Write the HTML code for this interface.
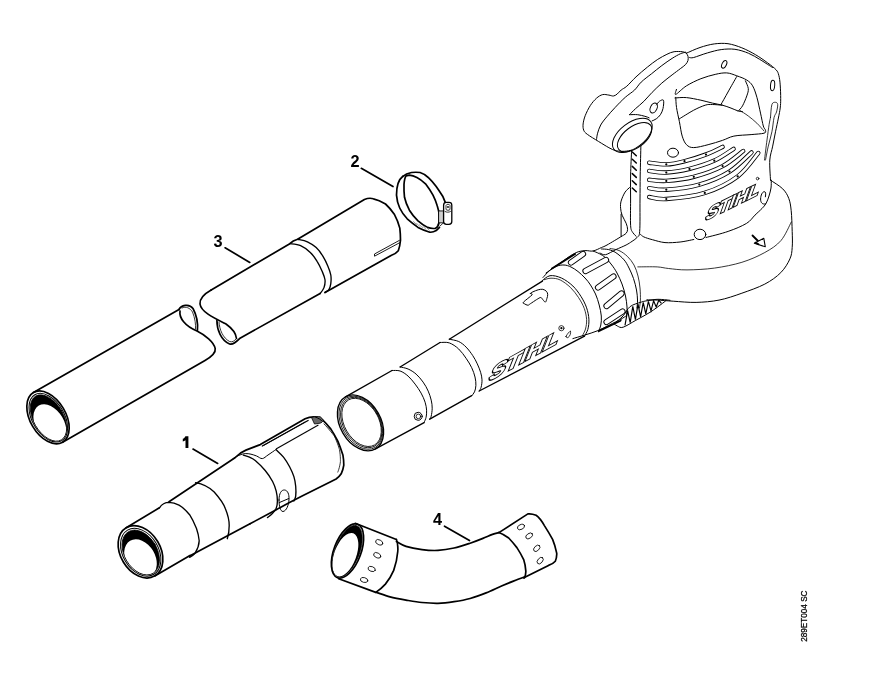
<!DOCTYPE html>
<html><head><meta charset="utf-8">
<style>
html,body{margin:0;padding:0;background:#fff;}
body{width:874px;height:697px;overflow:hidden;}
svg{display:block;will-change:transform;}
.l{fill:none;stroke:#000;stroke-width:1.7;stroke-linecap:round;stroke-linejoin:round;}
.m{fill:none;stroke:#000;stroke-width:1.0;stroke-linecap:round;stroke-linejoin:round;}
.k{fill:none;stroke:#000;stroke-width:1.35;stroke-linecap:round;stroke-linejoin:round;}
.t{fill:none;stroke:#000;stroke-width:0.8;stroke-linecap:round;stroke-linejoin:round;}
.f{fill:#000;stroke:none;}
.w{fill:#fff;stroke:#000;stroke-width:1.2;stroke-linejoin:round;}
.n{font-family:"Liberation Sans",sans-serif;font-weight:bold;font-size:16.3px;fill:#000;}
.s{font-family:"Liberation Sans",sans-serif;font-weight:bold;font-size:8px;fill:#000;}
</style></head><body>
<svg width="874" height="697" viewBox="0 0 874 697">
<ellipse class="l" cx="48.0" cy="417.4" rx="17.8" ry="28.8" transform="rotate(-30.5 48.0 417.4)"/>
<ellipse class="m" cx="48.3" cy="417.7" rx="16.0" ry="26.6" transform="rotate(-30.5 48.3 417.7)"/>
<clipPath id="c1"><ellipse cx="48.5" cy="418.0" rx="15.0" ry="25.4" transform="rotate(-30.5 48.5 418.0)"/></clipPath>
<g clip-path="url(#c1)"><ellipse cx="48.5" cy="418.0" rx="15.0" ry="25.4" transform="rotate(-30.5 48.5 418.0)" fill="#000"/><ellipse cx="49.9" cy="424.3" rx="14.2" ry="21.8" transform="rotate(-30.5 49.9 424.3)" fill="#fff"/></g>
<ellipse class="t" cx="48.5" cy="418.0" rx="15.0" ry="25.4" transform="rotate(-30.5 48.5 418.0)"/>
<path class="l" d="M33.4 392.6 L179 309.5" />
<path class="l" d="M179 309.5 C181 305.5 189 303 193 308.5 C196.5 315 198 324 197.4 330.5" />
<path class="t" d="M182 308 C186 306 190 308 192.5 312 C195 318 196 325 195.5 329" />
<path class="l" d="M180 311 C179 318 185 326 197 331 C205 335 214 342 215.2 348.6 C216 353.5 211 357 205 360.5 L62.6 442.2" />
<path class="l" d="M211.2 290 C204 294 199.5 298 200 304 C201 312 214 318 226 324 C233 329 236 333 236.5 338.5" />
<path class="l" d="M216.9 320.4 C217 330 221 340 229.6 344 C233 345 236 342 240 338.2 L320.1 293.5" />
<path class="t" d="M219 322 C219.5 330 223 338 229.6 341.5 C232 342.5 234.5 341 236 339" />
<path class="l" d="M211.2 290 L289.8 243.7 C292 241.5 295 240 297.6 239.3 L364.4 199.5 C368 198 371 198 373.4 198.8 C379 200 385.5 204 385.5 204 C390 208 394.5 214.6 394.5 214.6 C398 221 399.8 228.1 399.8 228.1 C400.5 234 400.5 240.2 400.5 240.2 C400 246 398.3 250.7 398.3 250.7 C396 253.5 391.5 255.3 391.5 255.3 L325 292.5" />
<path class="k" d="M289.8 243.7 C291.6 244.0 297.2 244.2 300.6 245.7 C304.0 247.2 307.6 249.9 310.3 252.5 C313.1 255.1 315.2 258.2 317.1 261.3 C319.1 264.4 320.7 267.9 322.0 271.0 C323.3 274.1 324.7 277.0 325.0 279.8 C325.3 282.6 324.8 285.3 324.0 287.6 C323.2 289.9 320.8 292.5 320.1 293.5"/>
<path class="k" d="M297.6 239.3 C299.2 239.7 304.3 240.4 307.4 241.8 C310.5 243.2 313.6 245.2 316.2 247.6 C318.8 250.0 321.1 253.3 323.0 256.4 C324.9 259.5 326.6 263.1 327.9 266.2 C329.2 269.3 330.3 272.1 330.8 275.0 C331.3 277.9 331.1 281.3 330.8 283.7 C330.5 286.1 329.9 288.1 328.9 289.6 C327.9 291.1 325.6 292.0 325.0 292.5"/>
<path class="t" d="M399.5 240.3 L374.5 254 L374.5 256.2 L399.5 242.8" style="stroke-width:0.9"/>
<path class="l" d="M402.9 176.3 C398 180 396.5 188 396.5 195.1 C397 202 399.7 208 399.7 208 C402 213 407.2 218.8 407.2 218.8 C412 223 418 227.4 418 227.4 C423 230 429.8 232.2 429.8 232.2 C433 232.5 436.2 230.6 436.2 230.6 L439.5 227.4" />
<path class="l" d="M402.9 176.3 C406 173.5 411.5 172.5 411.5 172.5 C416 172 420.1 172.5 420.1 172.5 C425 174 428.7 177.9 428.7 177.9 C432 181 436.2 186.5 436.2 186.5 C439 190.5 442.7 196.2 442.7 196.2 L445.4 202.6" />
<path class="l" d="M406.1 175.8 C404.5 178 404 184.4 404 184.4 C403.8 191 404.5 197.3 404.5 197.3 C406 204 409.4 210.2 409.4 210.2 C413 216 418 220.9 418 220.9 C422 224.5 427.6 227.4 427.6 227.4 C431 228.8 435.2 228.4 435.2 228.4 C437.5 227.5 438.4 225.2 438.4 225.2 C439.8 221 439.5 216.6 439.5 216.6 C439 211 437.3 205.9 437.3 205.9 C435.5 200 433 195.1 433 195.1 C429.5 189 425.5 183.8 425.5 183.8 C421 179.5 416.9 177.4 416.9 177.4 C413 175.5 409.4 175.2 409.4 175.2 Z" />
<rect x="438.6" y="211" width="5.2" height="11.8" fill="#fff" stroke="#000" stroke-width="1"/>
<path class="t" d="M439.8 212 L439.8 222 M441 212 L441 222 M442.3 212 L442.3 222" style="stroke:#888;stroke-width:0.6"/>
<rect x="443.6" y="202.4" width="8.2" height="21.9" rx="2.8" fill="#fff" stroke="#000" stroke-width="1.3"/>
<path class="t" d="M445 211.5 C446.5 212.5 449 212.5 450.5 211.5" />
<path d="M446 205.5 C446.5 203.8 449.5 203.8 450 205.5 L450 209.5 C449 210.5 447 210.5 446 209.5 Z" fill="#fff" stroke="#000" stroke-width="0.8"/>
<circle cx="448" cy="207" r="0.9" fill="#000"/>
<path class="t" d="M436.5 227.5 L438.6 222.7 M440 226 L443.6 222.7" />
<path class="t" d="M413.5 221.5 L416.5 224.5 M416.5 223.2 L419.5 226.3 M419.5 224.8 L422.7 227.8 M422.8 226.2 L426 229.2 M426.2 227.2 L429.3 230.2" style="stroke:#777;stroke-width:0.7"/>
<text class="n" x="213.4" y="246.8">3</text>
<path class="l" d="M225.1 247.8 L249.8 262.4" />
<text class="n" x="350.5" y="167.1">2</text>
<path class="l" d="M361.3 168.3 L393 186.5" />
<path class="f" d="M185.4 436.2 L188.4 436.2 L188.4 447.9 L185.5 447.9 L185.5 440.2 C184.6 440.9 183.6 441.3 182.8 441.5 L182.8 438.8 C184 438.3 185 437.3 185.4 436.2 Z"/>
<path class="l" d="M193 449.1 L217.7 463.4" />
<text class="n" x="433" y="525.2">4</text>
<path class="l" d="M444.5 526.2 L469.5 540.6" />
<ellipse class="l" cx="140.5" cy="551.8" rx="20.0" ry="28.0" transform="rotate(-30.8 140.5 551.8)"/>
<ellipse class="m" cx="140.7" cy="552.2" rx="17.8" ry="25.7" transform="rotate(-30.8 140.7 552.2)"/>
<clipPath id="c2"><ellipse cx="140.8" cy="552.5" rx="16.4" ry="24.2" transform="rotate(-30.8 140.8 552.5)"/></clipPath>
<g clip-path="url(#c2)"><ellipse cx="140.8" cy="552.5" rx="16.4" ry="24.2" transform="rotate(-30.8 140.8 552.5)" fill="#000"/><ellipse cx="140.5" cy="558.3" rx="14.6" ry="20.3" transform="rotate(-30.8 140.5 558.3)" fill="#fff"/></g>
<ellipse class="t" cx="140.8" cy="552.5" rx="16.4" ry="24.2" transform="rotate(-30.8 140.8 552.5)"/>
<path class="l" d="M126.2 527.7 L159.4 507.8" />
<path class="l" d="M154.8 575.9 L190 555.5" />
<path class="k" d="M159.4 507.8 C162 504 166 502.4 169 502.4 C174 502.6 179 505.1 179 505.1 C184 508 189.6 514.7 189.6 514.7 C193 520 196.5 528.4 196.5 528.4 C198.5 534 199.2 540.8 199.2 540.8 C199 547 195.1 553.2 195.1 553.2 C193 555.5 189.6 557.3 189.6 557.3" />
<path class="l" d="M169 501.7 L234.6 458" />
<path class="l" d="M189.6 556 L250 523.8" />
<path class="k" d="M195.6 482.7 C203 484 210 488 214.2 492 C219.5 498 223.5 503 225.4 508.8 C228 515 229.2 520 229.2 525.6 C229.2 531 228.5 535 227.3 538.7" />
<path class="l" d="M234.6 458 C238 454.5 241 452 245.9 450.1 L260.3 444.6 L305.1 418.8 C309 417 312 416.8 315.4 417 C318 417.2 320.5 418.2 322.3 419.6 C326 423 330.9 429.1 330.9 429.1 C334.5 434.5 337.8 441.1 337.8 441.1 C340.5 447.5 342.9 454.9 342.9 454.9 C343.8 460 343.8 465.2 343.8 465.2 C343.2 469.5 341.2 473.8 341.2 473.8 C339.5 476.5 336.1 479 336.1 479 C320 487 301.6 496.2 301.6 496.2 C290 502 275.8 510 275.8 510 L250 523.8" />
<path class="t" d="M324 423.9 C329 429 334.3 436 334.3 436 C337.5 442.5 339.5 449.8 339.5 449.8 C340.6 456 340.4 461.8 340.4 461.8 C339.8 467.5 337.8 472.1 337.8 472.1" />
<path class="k" d="M262.3 446 L308.1 420.5" />
<path class="t" d="M264 445.2 L305 422" />
<path d="M276 448.9 L318.4 424.9" stroke="#000" stroke-width="1.1" fill="none"/>
<path d="M311.5 417.6 C314 416.6 318 416.3 320.5 416.8 L323.3 420.2 C322.8 421.8 321.5 422.8 320 423.2 L314.5 424 Z" fill="#666" stroke="#000" stroke-width="0.8"/>
<path class="m" d="M232.6 459.2 C233.7 458.6 236.9 456.2 239.0 455.3 C241.1 454.4 243.2 453.8 245.2 453.6 C247.2 453.4 249.1 453.8 251.0 454.2 C252.9 454.6 254.7 455.3 256.6 456.0 C258.5 456.7 260.4 458.8 262.3 458.6 C264.2 458.4 265.7 456.5 268.0 455.0 C270.3 453.5 274.7 450.4 276.0 449.5"/>
<path class="m" d="M315.4 417 C318 418 321 419.6 322 421" />
<path class="k" d="M276.2 449.8 C277.4 451.0 281.3 454.3 283.5 457.1 C285.7 459.9 287.9 463.6 289.6 466.8 C291.3 470.1 292.9 473.4 293.9 476.6 C294.9 479.9 295.4 483.1 295.7 486.3 C296.0 489.6 296.0 493.7 295.7 496.1 C295.4 498.6 294.2 500.2 293.9 501.0"/>
<path class="k" d="M243.3 455.2 C244.3 455.5 247.5 456.3 249.5 457.2 C251.5 458.1 252.9 458.5 255.5 460.7 C258.1 462.9 262.3 467.0 265.2 470.5 C268.1 474.0 270.8 478.1 272.6 481.5 C274.4 484.9 275.4 487.9 276.2 491.2 C277.0 494.4 277.4 498.1 277.4 501.0 C277.4 503.9 277.0 506.3 276.2 508.3 C275.4 510.3 274.1 511.7 272.6 513.2 C271.2 514.7 268.4 516.8 267.5 517.5"/>
<path class="m" d="M279 500 C279 493 281.5 489.8 284.5 490 C287.8 490.3 289.2 494.5 289 499 C288.8 505 286.5 511 283 511.5 C280.3 511.5 279 506 279 500 Z M279.5 502.5 L288.8 498.5" />
<ellipse class="l" cx="347.5" cy="551.0" rx="13.5" ry="28.5" transform="rotate(20.6 347.5 551.0)"/>
<ellipse class="t" cx="347.3" cy="551.2" rx="12.3" ry="27.2" transform="rotate(20.6 347.3 551.2)"/>
<clipPath id="c3"><ellipse cx="347.3" cy="551.2" rx="12.3" ry="27.2" transform="rotate(20.6 347.3 551.2)"/></clipPath>
<g clip-path="url(#c3)"><ellipse cx="347.3" cy="551.2" rx="12.3" ry="27.2" transform="rotate(20.6 347.3 551.2)" fill="#000"/><ellipse cx="345.3" cy="554.7" rx="11.0" ry="22.8" transform="rotate(20.6 345.3 554.7)" fill="#fff"/></g>
<path class="l" d="M355.2 523.3 L396.4 539.5" />
<path class="l" d="M338.7 578.7 L375.8 592.4" />
<path class="l" d="M396.4 539.5 C398 543 398 551.2 397.8 551.2 C397 561 393.7 570.4 393.7 570.4 C390.5 578 385.4 584.1 385.4 584.1 C381 589 375.8 592.4 375.8 592.4" />
<path class="l" d="M396.4 541.6 C398.0 542.4 401.7 545.1 406.0 546.4 C410.3 547.7 416.7 548.9 422.0 549.6 C427.3 550.3 432.6 550.7 438.0 550.4 C443.4 550.1 448.8 549.2 454.1 548.0 C459.5 546.8 465.3 544.8 470.1 543.2 C474.9 541.6 479.2 539.9 482.9 538.4 C486.6 536.9 489.8 535.4 492.5 534.4 C495.2 533.4 497.8 532.9 498.9 532.6"/>
<path class="l" d="M376.5 592.4 C378.8 593.1 385.1 595.6 390.0 596.9 C394.9 598.2 400.7 599.2 406.0 600.1 C411.3 601.0 416.7 602.0 422.0 602.5 C427.3 603.0 432.6 603.4 438.0 603.3 C443.4 603.2 448.8 602.5 454.1 601.7 C459.5 600.9 464.8 600.0 470.1 598.5 C475.4 597.0 480.8 595.0 486.1 592.9 C491.4 590.8 496.8 588.0 502.1 585.7 C507.4 583.4 514.4 580.8 518.1 579.3 C521.8 577.8 523.4 577.3 524.5 576.9"/>
<path class="l" d="M498.9 532.6 L527.9 513.9 C531 513.5 533 514 536.1 515.3 C540 518 544.4 525.6 544.4 525.6 C548.5 532 552.6 539.3 552.6 539.3 C555 545 556.7 553.1 556.7 553.1 C557 557 555.3 561.3 555.3 561.3 C553 564 548.5 565.4 548.5 565.4 L523.8 577.8" />
<path class="l" d="M499 532.5 C503 534 508.7 538 508.7 538 C512.5 542 516.9 547.6 516.9 547.6 C520.5 553 523.8 559.9 523.8 559.9 C525.5 565 525.8 570.9 525.8 570.9 C526 574.5 524.4 577.8 524.4 577.8" />
<ellipse class="t" cx="379.2" cy="542.3" rx="3.8" ry="2.4" transform="rotate(25 379.2 542.3)"/>
<ellipse class="t" cx="377.2" cy="555.3" rx="3.8" ry="2.4" transform="rotate(25 377.2 555.3)"/>
<ellipse class="t" cx="371.7" cy="569.0" rx="3.8" ry="2.4" transform="rotate(20 371.7 569.0)"/>
<ellipse class="t" cx="364.1" cy="580.0" rx="3.8" ry="2.4" transform="rotate(15 364.1 580.0)"/>
<ellipse class="t" cx="521.0" cy="527.0" rx="3.8" ry="2.4" transform="rotate(-25 521.0 527.0)"/>
<ellipse class="t" cx="529.2" cy="535.9" rx="3.8" ry="2.4" transform="rotate(-35 529.2 535.9)"/>
<ellipse class="t" cx="536.8" cy="548.3" rx="3.8" ry="2.4" transform="rotate(-45 536.8 548.3)"/>
<ellipse class="t" cx="540.2" cy="560.6" rx="3.8" ry="2.4" transform="rotate(-50 540.2 560.6)"/>
<ellipse class="k" cx="360.5" cy="422.9" rx="20.3" ry="30.0" transform="rotate(-30 360.5 422.9)"/>
<ellipse class="t" cx="360.9" cy="422.7" rx="19.2" ry="28.6" transform="rotate(-30 360.9 422.7)"/>
<ellipse class="t" cx="361.3" cy="422.5" rx="18.1" ry="27.2" transform="rotate(-30 361.3 422.5)"/>
<ellipse class="t" cx="361.6" cy="422.4" rx="17.2" ry="26.0" transform="rotate(-30 361.6 422.4)"/>
<path class="k" d="M345.5 396.9 L392 370.5" />
<path class="m" d="M392.0 370.5 C393.4 370.6 397.4 370.1 400.1 371.0 C402.8 371.9 405.6 373.9 408.1 376.1 C410.6 378.3 412.9 381.3 415.1 384.1 C417.3 386.9 419.4 390.1 421.1 393.1 C422.8 396.1 424.2 399.4 425.1 402.2 C426.0 405.0 426.4 407.7 426.6 410.2 C426.8 412.7 426.5 415.1 426.1 417.2 C425.7 419.2 424.4 421.6 424.1 422.5"/>
<path class="m" d="M400.1 367.0 C401.4 367.3 405.4 367.8 408.1 369.0 C410.8 370.2 413.6 371.9 416.1 374.1 C418.6 376.3 421.1 379.3 423.1 382.1 C425.1 384.9 426.9 388.1 428.2 391.1 C429.5 394.1 430.5 397.2 431.2 400.1 C431.9 403.0 432.2 405.5 432.2 408.2 C432.2 410.9 431.6 414.4 431.2 416.2 C430.8 418.0 429.9 418.7 429.7 419.2"/>
<path class="k" d="M400.1 367 L440 342.5" />
<path class="m" d="M440.0 342.5 C441.6 342.6 446.2 341.8 449.3 342.9 C452.4 344.0 455.9 346.4 458.7 349.0 C461.5 351.6 463.9 355.2 466.1 358.3 C468.3 361.4 470.2 364.6 471.7 367.7 C473.2 370.8 474.3 374.1 475.0 377.0 C475.7 379.9 476.0 382.9 475.9 385.4 C475.8 387.9 475.2 390.2 474.5 391.9 C473.8 393.6 472.2 395.1 471.7 395.7"/>
<path class="m" d="M449.3 339.2 C450.9 339.6 455.9 340.2 458.7 341.5 C461.5 342.8 463.8 344.8 466.1 347.1 C468.4 349.4 470.8 352.7 472.7 355.5 C474.6 358.3 476.0 361.1 477.3 363.9 C478.6 366.7 479.8 369.6 480.6 372.3 C481.4 375.0 481.9 377.3 482.0 379.8 C482.1 382.3 481.6 385.4 481.1 387.3 C480.6 389.2 479.5 390.4 479.2 391.0"/>
<path class="k" d="M449.3 339.2 L542.4 281.1" />
<path class="k" d="M375.5 448.9 L424.1 422.7" />
<path class="k" d="M429.7 419.2 L471.7 395.7" />
<path class="k" d="M479.2 391 L584.5 336.2" />
<circle class="m" cx="418.2" cy="416.3" r="4"/><circle class="t" cx="418.4" cy="416.4" r="2.3"/>
<path class="m" d="M530.4 293.4 C530.6 292.9 531.7 292.4 533.0 291.8 C534.3 291.2 536.6 290.2 538.2 289.8 C539.8 289.4 541.4 289.1 542.8 289.3 C544.2 289.6 545.6 290.5 546.4 291.3 C547.2 292.1 547.6 293.2 547.7 294.4 C547.8 295.6 547.3 297.2 546.9 298.5 C546.5 299.8 546.1 301.9 545.4 302.1 C544.7 302.3 543.6 300.4 542.8 299.6 C542.0 298.8 541.7 297.5 540.7 297.5 C539.7 297.5 538.3 298.6 536.6 299.6 C534.9 300.6 531.9 302.8 530.4 303.7 C528.9 304.6 528.9 305.2 527.9 305.2 C526.9 305.2 525.0 304.2 524.3 303.7 C523.6 303.2 522.2 303.6 523.5 302.1 C524.8 300.6 530.9 296.3 532.0 294.9 C533.1 293.4 530.2 293.9 530.4 293.4 Z"/>
<text transform="matrix(1.08,-0.6,-0.4,1,487.5,382)" font-family="Liberation Sans" font-weight="bold" font-size="22.5" stroke="#000" stroke-width="2.4" fill="#000" letter-spacing="-0.3">STIHL</text>
<text transform="matrix(1.08,-0.6,-0.4,1,487.5,382)" font-family="Liberation Sans" font-weight="bold" font-size="22.5" fill="#fff" letter-spacing="-0.3">STIHL</text>
<circle class="t" cx="561.4" cy="328.2" r="2.6"/><circle cx="561.4" cy="328.2" r="1.1" fill="#000"/>
<path class="t" d="M566 336.5 C567 334 569.5 331.5 570.5 331 C571 333 570 336.5 568 337.5 C567 338 566 337.5 566 336.5 Z" />
<path class="m" d="M542.1 280.8 C543.4 279.9 546.8 276.2 550.0 275.7 C553.2 275.2 557.6 276.3 561.4 278.0 C565.2 279.7 569.6 282.9 572.9 286.0 C576.1 289.1 578.6 292.7 580.9 296.3 C583.2 299.9 585.3 304.0 586.6 307.8 C587.9 311.6 588.7 315.6 588.9 319.2 C589.1 322.8 588.6 326.6 587.8 329.5 C587.0 332.4 584.9 335.2 584.3 336.4"/>
<path class="t" d="M544.0 279.8 C545.2 279.5 548.3 278.2 551.0 278.2 C553.7 278.2 557.0 278.4 560.3 280.0 C563.5 281.6 567.5 284.6 570.5 287.5 C573.5 290.4 576.2 294.0 578.5 297.5 C580.8 301.0 582.9 304.8 584.3 308.5 C585.6 312.2 586.4 316.1 586.6 319.5 C586.8 322.9 586.2 326.3 585.5 329.0 C584.8 331.7 583.0 334.4 582.5 335.5"/>
<path class="m" d="M546.0 273.0 C547.7 271.9 553.0 267.8 556.0 266.5 C559.0 265.2 561.5 264.9 564.0 265.0 C566.5 265.1 568.7 265.9 571.0 267.0 C573.3 268.1 575.7 269.7 578.0 271.5 C580.3 273.3 582.9 275.8 585.0 278.0 C587.1 280.2 588.8 282.3 590.5 285.0 C592.2 287.7 594.0 290.7 595.5 294.0 C597.0 297.3 598.2 301.3 599.2 305.0 C600.2 308.7 601.0 312.7 601.3 316.0 C601.6 319.3 601.3 322.4 600.8 325.0 C600.3 327.6 598.9 330.4 598.5 331.5"/>
<path class="m" d="M543.0 277.5 C544.2 276.3 547.1 272.6 550.0 270.2 C552.9 267.8 556.9 265.4 560.3 263.0 C563.7 260.6 567.5 257.6 570.6 255.7 C573.7 253.8 576.2 252.4 578.8 251.6 C581.4 250.8 583.6 250.7 586.0 250.6 C588.4 250.5 590.4 251.5 593.0 251.0 C595.6 250.5 599.2 248.5 601.5 247.5 C603.8 246.5 603.6 246.9 607.0 245.0 C610.4 243.1 619.2 237.8 621.6 236.3"/>
<path class="t" d="M552 268.5 L575 254" style="stroke-width:2"/>
<path class="m" d="M593.2 251.1 C594.2 251.5 597.3 252.6 599.4 253.7 C601.5 254.8 603.5 255.9 605.6 257.8 C607.7 259.7 609.9 262.5 611.8 265.0 C613.7 267.5 615.3 269.8 617.0 273.0 C618.7 276.2 620.6 280.2 622.0 284.0 C623.4 287.8 624.7 292.2 625.5 296.0 C626.3 299.8 626.8 303.7 627.0 307.0 C627.2 310.3 626.6 314.5 626.5 316.0"/>
<path class="m" d="M601.5 249.0 C602.7 249.1 606.3 249.0 608.7 249.6 C611.1 250.2 613.3 251.0 615.9 252.7 C618.5 254.4 621.9 257.3 624.1 259.9 C626.3 262.4 627.4 264.9 629.0 268.0 C630.6 271.1 632.2 274.8 633.5 278.5 C634.8 282.2 635.8 286.4 636.5 290.0 C637.2 293.6 637.4 297.0 637.5 300.0 C637.6 303.0 637.1 306.7 637.0 308.0"/>
<path class="t" d="M610.0 248.5 C611.5 248.8 616.1 249.2 619.0 250.5 C621.9 251.8 625.0 254.1 627.5 256.5 C630.0 258.9 632.2 261.8 634.0 265.0 C635.8 268.2 637.0 272.2 638.0 276.0 C639.0 279.8 639.6 284.0 640.0 288.0 C640.4 292.0 640.5 296.7 640.4 300.0 C640.3 303.3 639.6 306.7 639.5 308.0"/>
<path d="M571 262.5 L583 254" stroke="#000" stroke-width="6.2" stroke-linecap="round"/><path d="M571 262.5 L583 254" stroke="#fff" stroke-width="4.3" stroke-linecap="round"/>
<path d="M585.5 271 L606 260" stroke="#000" stroke-width="6.2" stroke-linecap="round"/><path d="M585.5 271 L606 260" stroke="#fff" stroke-width="4.3" stroke-linecap="round"/>
<path d="M598 287.5 L613.5 276.5" stroke="#000" stroke-width="6.2" stroke-linecap="round"/><path d="M598 287.5 L613.5 276.5" stroke="#fff" stroke-width="4.3" stroke-linecap="round"/>
<path d="M606.5 306 L621.5 293.5" stroke="#000" stroke-width="6.2" stroke-linecap="round"/><path d="M606.5 306 L621.5 293.5" stroke="#fff" stroke-width="4.3" stroke-linecap="round"/>
<path d="M606.5 322 L622.5 311.5" stroke="#000" stroke-width="6.2" stroke-linecap="round"/><path d="M606.5 322 L622.5 311.5" stroke="#fff" stroke-width="4.3" stroke-linecap="round"/>
<path class="m" d="M572.9 338.6 C574.8 338.0 580.1 336.5 584.3 335.2 C588.5 333.9 593.8 332.3 598.0 330.6 C602.2 328.9 605.7 326.8 609.5 324.9 C613.3 323.0 618.1 320.7 620.9 319.2 C623.6 317.7 625.1 316.5 626.0 316.0"/>
<path class="f" d="M598 332.5 L621 321.5 L622 319.3 L598.5 330 Z" />
<path class="m" d="M614.1 323.8 C614.7 324.2 616.0 325.5 617.5 326.1 C619.0 326.7 620.2 328.2 623.2 327.2 C626.2 326.2 631.3 322.8 635.8 320.3 C640.3 317.8 645.6 315.1 650.0 312.3 C654.4 309.5 659.7 305.4 662.4 303.4 C665.1 301.4 665.4 301.0 666.0 300.5"/>
<path class="m" d="M614.1 323.8 C615.6 322.5 620.5 318.7 623.2 315.8 C625.9 312.9 627.1 308.9 630.1 306.6 C633.1 304.3 638.2 303.1 641.5 302.0 C644.8 300.9 647.2 300.8 650.0 300.3 C652.8 299.9 655.0 299.3 658.3 299.3 C661.6 299.3 668.0 300.1 670.0 300.3"/>
<polyline points="625.0,325.4 627.6,310.7 630.2,322.6 632.8,306.3 635.4,319.7 638.0,304.2 640.6,316.8 643.2,302.5 645.8,313.9 648.4,301.4 651.0,310.8 653.6,300.7 656.2,307.0 658.8,300.2 661.4,303.3" fill="none" stroke="#000" stroke-width="1.15" stroke-linejoin="miter"/>
<path class="m" d="M631.5 150.2 C630.3 150.4 626.9 151.2 624.3 151.3 C621.7 151.4 618.7 151.4 616.1 150.8 C613.5 150.2 611.8 149.2 608.9 147.7 C606.0 146.1 602.2 143.7 598.6 141.5 C595.0 139.3 589.8 136.2 587.3 134.3 C584.8 132.4 584.4 131.9 583.7 130.2 C583.0 128.5 582.9 126.4 583.1 124.0 C583.4 121.6 584.0 118.8 585.2 115.7 C586.4 112.6 588.5 108.3 590.4 105.4 C592.3 102.5 594.5 100.0 596.5 98.2 C598.5 96.4 600.6 95.1 602.7 94.6 C604.8 94.1 607.1 94.9 608.9 95.1 C610.7 95.3 612.0 96.2 613.4 96.0 C614.8 95.8 615.8 95.1 617.1 94.1 C618.4 93.1 619.6 91.3 621.2 90.0 C622.8 88.7 624.3 88.4 626.8 86.2 C629.3 84.0 632.6 80.1 636.0 76.9 C639.4 73.7 643.8 70.0 647.4 67.1 C651.0 64.2 654.5 61.5 657.7 59.4 C661.0 57.3 664.2 55.6 666.9 54.3 C669.6 53.0 671.5 52.1 674.1 51.7 C676.7 51.3 680.3 51.5 682.4 51.7 C684.5 52.0 685.8 53.0 686.5 53.2"/>
<path class="m" d="M596.5 139.4 C596.7 138.4 596.9 135.6 597.6 133.2 C598.3 130.8 599.2 127.7 600.7 125.0 C602.2 122.3 604.4 119.7 606.8 116.8 C609.2 113.9 612.0 110.8 615.1 107.5 C618.2 104.2 622.1 100.1 625.4 97.2 C628.6 94.3 632.0 92.5 634.6 90.0 C637.2 87.5 638.4 84.8 641.2 82.1 C644.0 79.4 648.1 76.5 651.5 73.8 C654.9 71.0 658.4 68.2 661.8 65.6 C665.2 63.0 669.0 60.4 672.1 58.4 C675.2 56.4 678.1 54.8 680.3 53.8 C682.5 52.8 684.6 52.5 685.5 52.2"/>
<path class="m" d="M629.5 114.7 C630.5 113.7 633.3 110.7 635.7 108.5 C638.1 106.3 641.2 104.0 643.9 101.3 C646.6 98.6 649.1 95.4 652.1 92.4 C655.1 89.4 658.5 86.0 661.8 83.1 C665.1 80.2 669.0 77.3 672.1 74.9 C675.2 72.5 678.1 70.4 680.3 68.7 C682.5 67.0 684.2 66.0 685.5 64.6 C686.8 63.2 687.6 61.8 688.0 60.4 C688.4 59.0 688.2 57.4 688.0 56.3 C687.8 55.1 686.8 54.0 686.5 53.5"/>
<path class="m" d="M629.5 114.7 C630.9 114.7 635.1 114.4 637.7 114.7 C640.3 115.0 643.0 115.8 644.9 116.3 C646.8 116.8 648.4 117.5 649.1 117.8"/>
<ellipse class="m" cx="653.7" cy="108.0" rx="3.3" ry="5.2" transform="rotate(25 653.7 108.0)"/>
<path class="m" d="M652.1 120.9 C652.8 120.6 654.9 119.8 656.3 118.8 C657.7 117.8 659.3 116.4 660.4 114.7 C661.5 113.0 662.5 110.9 663.0 108.5 C663.5 106.1 664.1 101.5 663.5 100.3 C662.9 99.1 660.6 100.5 659.4 101.3 C658.2 102.1 657.0 104.4 656.5 105.0"/>
<path class="m" d="M686.5 53.2 C688.8 52.2 695.4 49.0 700.0 47.5 C704.6 46.0 709.6 44.5 714.3 43.9 C719.0 43.3 723.4 43.1 728.0 43.7 C732.6 44.4 737.2 46.0 741.8 47.8 C746.4 49.6 751.2 52.2 755.5 54.7 C759.8 57.2 764.4 60.5 767.8 63.0 C771.2 65.5 774.3 67.8 776.1 69.8 C777.9 71.8 778.1 72.8 778.8 75.3 C779.5 77.8 779.9 81.0 780.2 84.9 C780.5 88.8 780.7 94.8 780.7 98.6 C780.7 102.4 780.6 104.8 780.2 108.0 C779.8 111.2 779.2 114.0 778.4 118.0 C777.6 122.0 776.5 127.1 775.5 131.8 C774.5 136.5 773.7 141.4 772.7 146.1 C771.8 150.8 770.2 154.3 769.8 160.0 C769.4 165.7 770.4 176.8 770.5 180.2"/>
<path class="m" d="M689.6 57.5 C690.3 57.5 690.7 58.3 693.7 57.5 C696.7 56.7 702.9 54.2 707.5 52.9 C712.1 51.6 716.6 50.2 721.2 49.6 C725.8 49.0 730.3 48.7 734.9 49.3 C739.5 49.9 744.5 51.6 748.6 53.3 C752.7 55.0 756.4 57.4 759.6 59.3 C762.8 61.2 765.6 63.1 767.8 64.5 C769.9 65.9 771.7 67.0 772.5 67.5"/>
<ellipse class="m" cx="724.2" cy="64.3" rx="2.2" ry="4.1" transform="rotate(25 724.2 64.3)"/>
<ellipse class="m" cx="772.6" cy="85.5" rx="2.1" ry="5.2" transform="rotate(5 772.6 85.5)"/>
<path class="m" d="M676.5 89.4 C676.4 90.2 674.1 95.0 675.8 94.4 C677.5 93.8 682.3 88.4 686.5 85.8 C690.7 83.2 696.1 80.6 700.9 78.7 C705.7 76.8 710.9 75.4 715.2 74.4 C719.5 73.4 723.1 72.7 726.7 72.9 C730.3 73.1 733.4 74.6 736.8 75.8 C740.1 77.0 744.2 78.4 746.8 80.1 C749.4 81.8 750.9 82.9 752.6 85.8 C754.3 88.7 755.6 92.8 756.9 97.3 C758.2 101.8 759.4 108.3 760.5 113.1 C761.6 117.9 762.5 123.1 763.3 126.0 C764.1 128.9 765.4 129.1 765.5 130.3 C765.6 131.5 766.4 132.5 764.0 133.2 C761.6 133.9 756.1 134.1 751.1 134.6 C746.1 135.1 738.7 135.1 733.9 136.1 C729.1 137.1 726.7 139.0 722.4 140.4 C718.1 141.8 712.9 143.5 708.1 144.7 C703.3 145.9 697.3 147.6 693.7 147.6 C690.1 147.6 688.4 146.6 686.5 144.7 C684.6 142.8 683.4 139.9 682.2 136.1 C681.0 132.3 680.4 126.5 679.4 121.7 C678.4 116.9 677.1 111.5 676.5 107.4 C675.9 103.3 675.9 99.0 675.8 97.3"/>
<path class="m" d="M675.0 98.0 C676.9 97.9 682.2 97.2 686.5 97.6 C690.8 98.0 696.6 99.3 700.9 100.2 C705.2 101.1 708.8 102.3 712.4 103.1 C716.0 103.9 719.3 104.4 722.4 105.2 C725.5 106.0 728.4 107.1 731.0 108.1 C733.6 109.1 736.3 110.4 738.2 111.0 C740.1 111.6 741.8 111.6 742.5 111.7"/>
<path class="m" d="M679.4 118.8 C681.8 117.4 689.4 112.5 693.7 110.2 C698.0 107.9 702.1 106.2 705.2 105.2 C708.3 104.2 709.5 104.5 712.4 104.5 C715.3 104.5 720.7 105.1 722.4 105.2"/>
<path class="m" d="M736.8 76.5 C735.3 79.1 730.6 87.3 728.0 92.0 C725.4 96.7 722.2 102.4 721.0 104.5"/>
<path class="m" d="M745.4 80.8 C745.9 82.1 748.1 86.2 748.3 88.7 C748.5 91.2 747.8 93.0 746.8 95.9 C745.8 98.8 743.9 103.4 742.5 105.9 C741.1 108.4 738.9 110.2 738.2 111.0"/>
<path class="t" d="M739.6 110.2 C741.0 111.2 745.4 113.8 748.3 116.0 C751.2 118.2 754.3 120.7 756.9 123.2 C759.5 125.7 762.8 129.7 764.0 131.0"/>
<path class="t" d="M770.5 117.4 C770.7 115.2 771.1 107.0 771.9 104.5 C772.7 102.0 774.5 102.3 775.5 102.3 C776.5 102.3 777.5 102.9 777.7 104.5 C777.9 106.1 777.1 109.8 776.5 112.0 C775.9 114.2 774.9 114.1 774.1 117.4 C773.3 120.7 772.9 127.0 771.9 131.8 C770.9 136.6 769.4 141.4 768.3 146.1 C767.2 150.8 766.0 157.7 765.5 160.0"/>
<path class="t" d="M770.5 117.4 C770.3 118.6 769.7 120.8 769.1 124.6 C768.5 128.4 767.8 134.1 767.0 140.0 C766.2 145.9 764.9 156.7 764.5 160.0"/>
<ellipse class="m" cx="632.3" cy="135.4" rx="23.0" ry="12.6" transform="rotate(-37 632.3 135.4)"/>
<ellipse class="m" cx="634.6" cy="137.2" rx="20.0" ry="10.6" transform="rotate(-37 634.6 137.2)"/>
<path class="m" d="M631.6 150.7 C631.4 154.8 630.8 166.8 630.6 175.0 C630.4 183.2 630.6 191.6 630.6 200.0 C630.6 208.4 630.3 219.9 630.6 225.3 C630.9 230.7 631.7 230.5 632.6 232.3 C633.5 234.1 635.6 235.6 636.2 236.3"/>
<path class="m" d="M640.9 145.0 C640.8 150.0 640.4 165.8 640.2 175.0 C640.1 184.2 640.1 190.6 640.0 200.0 C639.9 209.4 640.2 225.1 639.7 231.3 C639.2 237.5 638.5 235.6 637.2 237.3 C635.9 239.0 634.0 240.0 632.1 241.3 C630.2 242.6 628.8 243.6 626.1 245.0 C623.4 246.4 619.3 248.0 615.9 249.6 C612.5 251.2 608.2 254.1 605.6 254.7 C603.0 255.3 600.9 253.3 600.0 253.0"/>
<path class="m" d="M632.3 152.0 L636.3 155.8" style="stroke-width:1.5"/>
<path class="m" d="M632.3 159.2 L636.3 163.0" style="stroke-width:1.5"/>
<path class="m" d="M632.3 166.4 L636.3 170.2" style="stroke-width:1.5"/>
<path class="m" d="M632.3 173.6 L636.3 177.4" style="stroke-width:1.5"/>
<path class="m" d="M632.3 180.8 L636.3 184.6" style="stroke-width:1.5"/>
<path class="m" d="M632.3 188.0 L636.3 191.8" style="stroke-width:1.5"/>
<path class="m" d="M630.1 187.1 C629.3 187.9 626.6 189.8 625.1 192.1 C623.6 194.4 621.9 198.4 621.1 201.1 C620.4 203.8 620.4 205.8 620.6 208.2 C620.8 210.5 621.2 212.7 622.1 215.2 C623.0 217.7 625.2 220.8 626.1 223.2 C627.0 225.5 627.6 227.6 627.6 229.3 C627.6 231.0 627.1 232.1 626.1 233.3 C625.1 234.5 622.4 235.8 621.6 236.3"/>
<path class="m" d="M621.1 214.2 L621.1 236.3" />
<path class="m" d="M640.2 234.0 C640.8 234.5 641.8 236.0 643.8 236.9 C645.8 237.8 648.9 238.8 652.4 239.7 C655.9 240.6 660.4 242.2 665.0 242.6 C669.6 243.0 675.3 242.5 680.1 242.0 C684.9 241.5 691.5 239.9 693.8 239.5"/>
<path d="M649.2 162.7 C652.1 163.0 660.5 164.6 666.3 164.4 C672.1 164.2 677.6 163.0 684.2 161.3 C690.9 159.6 699.8 156.8 706.2 154.4 C712.6 152.0 719.9 148.2 722.6 146.9" fill="none" stroke="#000" stroke-width="4.4" stroke-linecap="round"/><path d="M649.2 162.7 C652.1 163.0 660.5 164.6 666.3 164.4 C672.1 164.2 677.6 163.0 684.2 161.3 C690.9 159.6 699.8 156.8 706.2 154.4 C712.6 152.0 719.9 148.2 722.6 146.9" fill="none" stroke="#fff" stroke-width="2.7" stroke-linecap="round"/>
<path d="M649.2 170.9 C652.1 171.2 659.5 172.8 666.3 172.5 C673.0 172.2 681.7 170.8 689.7 168.8 C697.7 166.8 707.1 163.9 714.4 160.6 C721.7 157.3 730.4 150.8 733.6 148.9" fill="none" stroke="#000" stroke-width="4.4" stroke-linecap="round"/><path d="M649.2 170.9 C652.1 171.2 659.5 172.8 666.3 172.5 C673.0 172.2 681.7 170.8 689.7 168.8 C697.7 166.8 707.1 163.9 714.4 160.6 C721.7 157.3 730.4 150.8 733.6 148.9" fill="none" stroke="#fff" stroke-width="2.7" stroke-linecap="round"/>
<path d="M649.2 179.8 C652.1 180.0 658.9 181.4 666.3 180.9 C673.7 180.4 684.4 179.3 693.8 176.8 C703.2 174.3 714.4 170.4 722.6 166.1 C730.8 161.8 739.8 153.5 743.2 151.0" fill="none" stroke="#000" stroke-width="4.4" stroke-linecap="round"/><path d="M649.2 179.8 C652.1 180.0 658.9 181.4 666.3 180.9 C673.7 180.4 684.4 179.3 693.8 176.8 C703.2 174.3 714.4 170.4 722.6 166.1 C730.8 161.8 739.8 153.5 743.2 151.0" fill="none" stroke="#fff" stroke-width="2.7" stroke-linecap="round"/>
<path d="M649.2 188.1 C652.1 188.4 657.9 190.3 666.3 189.7 C674.6 189.1 688.8 187.6 699.3 184.6 C709.8 181.6 720.8 177.0 729.5 171.6 C738.2 166.2 747.8 155.6 751.5 152.4" fill="none" stroke="#000" stroke-width="4.4" stroke-linecap="round"/><path d="M649.2 188.1 C652.1 188.4 657.9 190.3 666.3 189.7 C674.6 189.1 688.8 187.6 699.3 184.6 C709.8 181.6 720.8 177.0 729.5 171.6 C738.2 166.2 747.8 155.6 751.5 152.4" fill="none" stroke="#fff" stroke-width="2.7" stroke-linecap="round"/>
<path d="M649.2 197.0 C652.1 197.3 657.0 199.7 666.3 199.0 C675.6 198.3 692.9 196.7 704.8 192.9 C716.7 189.1 728.8 183.1 737.7 176.4 C746.6 169.8 754.9 156.9 758.3 153.0" fill="none" stroke="#000" stroke-width="4.4" stroke-linecap="round"/><path d="M649.2 197.0 C652.1 197.3 657.0 199.7 666.3 199.0 C675.6 198.3 692.9 196.7 704.8 192.9 C716.7 189.1 728.8 183.1 737.7 176.4 C746.6 169.8 754.9 156.9 758.3 153.0" fill="none" stroke="#fff" stroke-width="2.7" stroke-linecap="round"/>
<circle cx="666.3" cy="164.4" r="1.1" fill="#000"/>
<circle cx="684.5" cy="161.2" r="1.1" fill="#000"/>
<circle cx="706" cy="154.6" r="1.1" fill="#000"/>
<circle cx="666.3" cy="172.5" r="1.1" fill="#000"/>
<circle cx="689.5" cy="168.9" r="1.1" fill="#000"/>
<circle cx="714.3" cy="160.7" r="1.1" fill="#000"/>
<circle cx="666.3" cy="180.9" r="1.1" fill="#000"/>
<circle cx="693.8" cy="176.8" r="1.1" fill="#000"/>
<circle cx="722.6" cy="166.1" r="1.1" fill="#000"/>
<circle cx="666.3" cy="189.7" r="1.1" fill="#000"/>
<circle cx="699.3" cy="184.6" r="1.1" fill="#000"/>
<circle cx="729.5" cy="171.6" r="1.1" fill="#000"/>
<circle cx="666.3" cy="199" r="1.1" fill="#000"/>
<circle cx="704.8" cy="192.9" r="1.1" fill="#000"/>
<circle cx="737.7" cy="176.4" r="1.1" fill="#000"/>
<ellipse class="m" cx="673.0" cy="152.7" rx="5.5" ry="4.5" transform="rotate(0 673.0 152.7)"/>
<ellipse class="m" cx="700.0" cy="234.4" rx="5.8" ry="5.2" transform="rotate(0 700.0 234.4)"/>
<text transform="matrix(0.95,-0.47,-0.36,1,704.5,221)" font-family="Liberation Sans" font-weight="bold" font-size="19.5" stroke="#000" stroke-width="2.4" fill="#000" letter-spacing="-0.2">STIHL</text>
<text transform="matrix(0.95,-0.47,-0.36,1,704.5,221)" font-family="Liberation Sans" font-weight="bold" font-size="19.5" fill="#fff" letter-spacing="-0.2">STIHL</text>
<circle class="t" cx="757.6" cy="178.6" r="1.3"/>
<path class="m" d="M765.5 203.8 C762.5 205 760.5 202.5 760.6 199 C760.8 195 762.3 192 764.2 191.6 C765.8 191.6 766 194 765.4 196.8" />
<path class="m" d="M706.0 237.5 C709.7 236.5 721.4 233.8 728.1 231.4 C734.9 229.1 742.0 226.1 746.5 223.4 C751.0 220.7 752.4 217.6 755.0 215.1 C757.6 212.6 760.2 210.4 762.0 208.5 C763.8 206.6 764.8 205.6 766.0 203.5 C767.2 201.4 768.2 198.6 769.0 196.0 C769.8 193.4 770.6 190.6 771.0 188.0 C771.4 185.4 771.2 181.5 771.3 180.2"/>
<path class="m" d="M770.5 180.2 C772.5 181.6 779.7 185.8 782.7 188.8 C785.8 191.9 787.4 194.8 788.8 198.5 C790.2 202.2 790.6 205.2 791.2 210.7 C791.8 216.2 792.0 225.3 792.2 231.4 C792.4 237.5 792.6 242.9 792.2 247.5 C791.8 252.1 791.8 254.7 789.9 258.9 C788.0 263.1 785.0 268.4 780.8 272.6 C776.6 276.8 771.3 280.7 764.8 284.1 C758.3 287.5 749.5 290.5 741.9 293.2 C734.3 295.9 726.6 298.6 719.0 300.1 C711.4 301.6 703.7 302.2 696.1 302.4 C688.5 302.6 679.7 301.6 673.2 301.2 C666.7 300.8 661.6 300.3 657.2 300.1 C652.8 299.9 648.6 299.9 646.9 299.8"/>
<path class="t" d="M637.8 266.9 C641.0 266.9 652.1 266.6 657.2 266.9 C662.3 267.2 663.6 268.0 668.6 268.5 C673.6 269.0 679.4 270.0 687.0 269.9 C694.6 269.8 705.2 269.4 714.4 268.1 C723.5 266.8 733.5 264.9 741.9 262.3 C750.3 259.7 758.3 256.1 764.8 252.5 C771.3 248.9 776.6 245.6 781.0 240.5 C785.4 235.4 789.6 225.1 791.3 222.0"/>
<path class="m" d="M752.5 235.5 L758 241" style="stroke-width:1.8"/>
<path d="M754.3 243.3 L763.8 238.3 L765.3 246.8 Z" fill="#fff" stroke="#000" stroke-width="1.1" stroke-linejoin="round"/>
<path class="m" d="M755.5 242.6 L758.5 244.2" style="stroke-width:1.8"/>
<text transform="translate(806.6,641.8) rotate(-90)" font-family="Liberation Sans" font-size="8.4" fill="#000" stroke="#000" stroke-width="0.25" textLength="51.3" lengthAdjust="spacingAndGlyphs">289ET004 SC</text>
</svg>
</body></html>
